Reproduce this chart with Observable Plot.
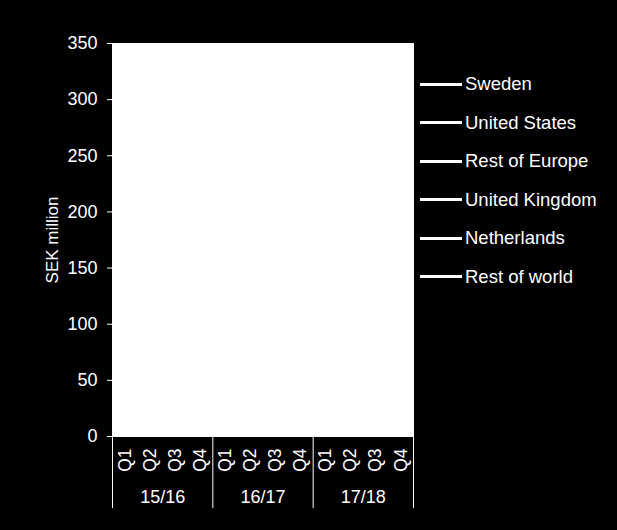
<!DOCTYPE html>
<html>
<head>
<meta charset="utf-8">
<script src="https://cdn.jsdelivr.net/npm/d3@7"></script>
<script src="https://cdn.jsdelivr.net/npm/@observablehq/plot@0.6"></script>
<style>
  html, body { margin: 0; padding: 0; background: #000; }
  #wrap { position: relative; width: 617px; height: 530px; background: #000; overflow: hidden; }
  #legend { position: absolute; left: 420px; top: 65px; font-family: "Liberation Sans", Arial, sans-serif; font-size: 18.5px; color: #fff; }
  .item { display: flex; align-items: center; height: 38.5px; white-space: nowrap; }
  .swatch { width: 42px; height: 3px; background: #fff; margin-right: 3px; flex: none; }
</style>
</head>
<body>
<div id="wrap"><div id="legend"></div></div>
<script>
const years = ["15/16", "16/17", "17/18"];
const quarters = ["Q1", "Q2", "Q3", "Q4"];
const yTicks = [0, 50, 100, 150, 200, 250, 300, 350];
const seriesNames = ["Sweden", "United States", "Rest of Europe", "United Kingdom", "Netherlands", "Rest of world"];
// Series lines are drawn in white on the white plot area; no values are visible in the reference.

const periods = years.flatMap(y => quarters.map(q => ({year: y, quarter: q})));
const qTicks = periods.map((p, i) => i + 0.5);
const yearTicks = years.map((y, i) => i * 4 + 2);
const dividers = years.map((y, i) => i * 4).concat([years.length * 4]);

const font = "Liberation Sans, Arial, sans-serif";

const chart = Plot.plot({
  width: 617,
  height: 530,
  marginLeft: 112,
  marginRight: 204,
  marginTop: 43,
  marginBottom: 94,
  style: {background: "#000", color: "#fff", fontFamily: font, fontSize: "18px", overflow: "visible"},
  x: {domain: [0, periods.length], axis: null},
  y: {domain: [0, 350], axis: null},
  marks: [
    Plot.frame({fill: "#fff", stroke: "#fff"}),
    Plot.axisY(yTicks, {
      tickSize: 5, tickPadding: 10, stroke: "#fff", fill: "#fff",
      fontSize: 18, label: null
    }),
    Plot.text(["SEK million"], {
      frameAnchor: "left", dx: -60, rotate: -90, fill: "#fff", fontSize: 17, textAnchor: "middle"
    }),
    Plot.axisX(qTicks, {
      anchor: "bottom", tickSize: 0, tickPadding: 12, tickRotate: -90,
      tickFormat: (d, i) => periods[i].quarter, fill: "#fff", fontSize: 17.5, label: null
    }),
    Plot.axisX(yearTicks, {
      anchor: "bottom", tickSize: 0, tickPadding: 54,
      tickFormat: (d, i) => years[i], fill: "#fff", fontSize: 18, label: null
    }),
    Plot.axisX(dividers, {
      anchor: "bottom", tickSize: 72, tickFormat: () => "", stroke: "#fff", label: null
    })
  ]
});

const wrap = document.getElementById("wrap");
wrap.insertBefore(chart, wrap.firstChild);
chart.style.position = "absolute";
chart.style.left = "0";
chart.style.top = "0";

const legend = document.getElementById("legend");
seriesNames.forEach(n => {
  const row = document.createElement("div");
  row.className = "item";
  row.innerHTML = `<span class="swatch"></span><span>${n}</span>`;
  legend.appendChild(row);
});
</script>
</body>
</html>
